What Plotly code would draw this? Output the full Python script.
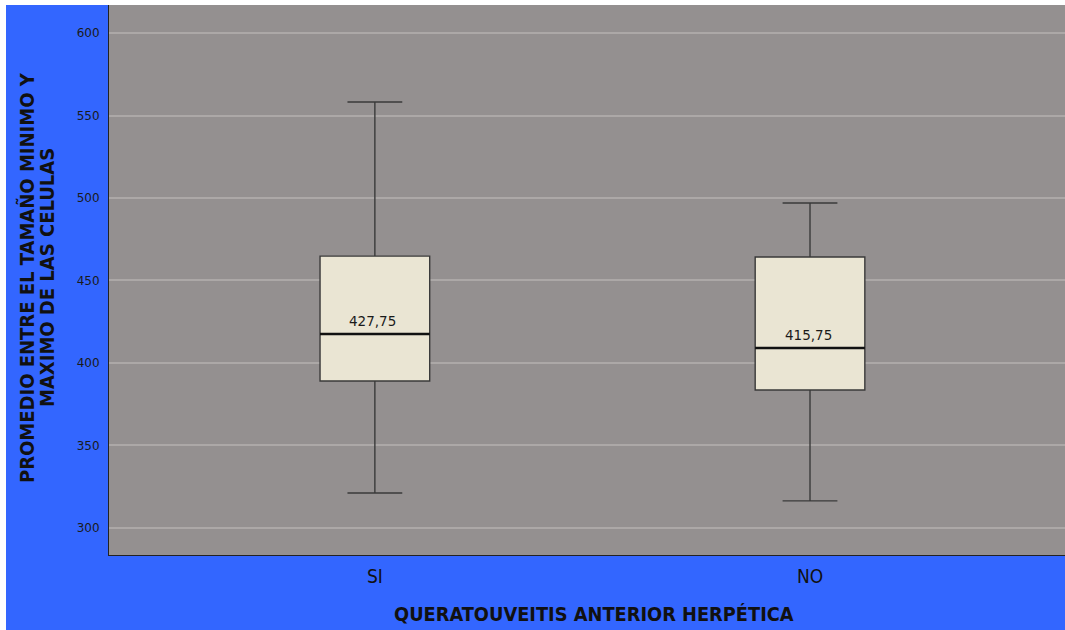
import plotly.graph_objects as go

categories = ["SI", "NO"]
x_pos = [0, 1]
lower_whisker = [321.2, 316.4]
q1_values = [389.1, 383.6]
median_values = [417.6, 409.1]
q3_values = [464.8, 464.2]
upper_whisker = [558.2, 497.0]
label_values = ["427,75", "415,75"]

BLUE = "#3366FF"
GRAY = "#949090"
GRID = "#ACA8A7"
FILL = "#EAE5D3"
LINE = "#3A3A3A"
NARROW = "DejaVu Sans Condensed, Liberation Sans Narrow, sans-serif"
TICKF = "DejaVu Sans, Verdana, sans-serif"
BOX_W = 0.252

fig = go.Figure()
fig.add_trace(go.Box(
    x=x_pos,
    q1=q1_values, median=median_values, q3=q3_values,
    lowerfence=lower_whisker, upperfence=upper_whisker,
    fillcolor=FILL,
    line=dict(color=LINE, width=1.4),
    width=BOX_W,
    whiskerwidth=0.5,
    boxpoints=False,
    hoverinfo="skip",
    showlegend=False,
))

# thicker median lines
mx, my = [], []
for xp, med in zip(x_pos, median_values):
    mx += [xp - BOX_W / 2, xp + BOX_W / 2, None]
    my += [med, med, None]
fig.add_trace(go.Scatter(x=mx, y=my, mode="lines",
                         line=dict(color="#111", width=2.6),
                         hoverinfo="skip", showlegend=False))

for xp, med, lab in zip(x_pos, median_values, label_values):
    fig.add_annotation(
        x=xp, y=med, text=lab, showarrow=False,
        yanchor="bottom", yshift=3, xshift=-2,
        font=dict(family=TICKF, size=13.5, color="#1a1a1a"),
    )

ytitle_lines = ["<b>PROMEDIO ENTRE EL TAMAÑO MINIMO Y</b>", "<b>MAXIMO DE LAS CELULAS</b>"]
for i, t in enumerate(ytitle_lines):
    fig.add_annotation(
        xref="paper", yref="paper", x=0, y=0.5,
        xanchor="center", yanchor="middle",
        xshift=-82 + 20 * i, yshift=2,
        textangle=-90, text=t, showarrow=False,
        font=dict(family=NARROW, size=20, color="#111"),
    )

fig.add_annotation(
    xref="paper", yref="paper", x=0.5, y=0,
    xanchor="center", yanchor="middle",
    xshift=7, yshift=-59,
    text="<b>QUERATOUVEITIS ANTERIOR HERPÉTICA</b>", showarrow=False,
    font=dict(family=NARROW, size=19.8, color="#111"),
)

fig.update_layout(
    width=1059, height=625,
    margin=dict(l=103, r=0, t=0, b=75),
    paper_bgcolor=BLUE,
    plot_bgcolor=GRAY,
    xaxis=dict(
        range=[-0.611, 1.586],
        tickvals=x_pos, ticktext=categories,
        showgrid=False, zeroline=False,
        showline=True, linecolor="#222", linewidth=1,
        ticks="outside", ticklen=4, tickcolor="rgba(0,0,0,0)",
        tickfont=dict(family=NARROW, size=19, color="#111"),
    ),
    yaxis=dict(
        range=[283.6, 617],
        tickvals=[300, 350, 400, 450, 500, 550, 600],
        showgrid=True, gridcolor=GRID, gridwidth=1.5,
        zeroline=False,
        showline=True, linecolor="#222", linewidth=1,
        ticks="outside", ticklen=6, tickcolor="rgba(0,0,0,0)",
        tickfont=dict(family=TICKF, size=12, color="#1a1a1a"),
    ),
)

fig.write_html("out.html", post_script="document.body.style.margin='5px 0 0 6px';document.body.style.overflow='hidden';")
